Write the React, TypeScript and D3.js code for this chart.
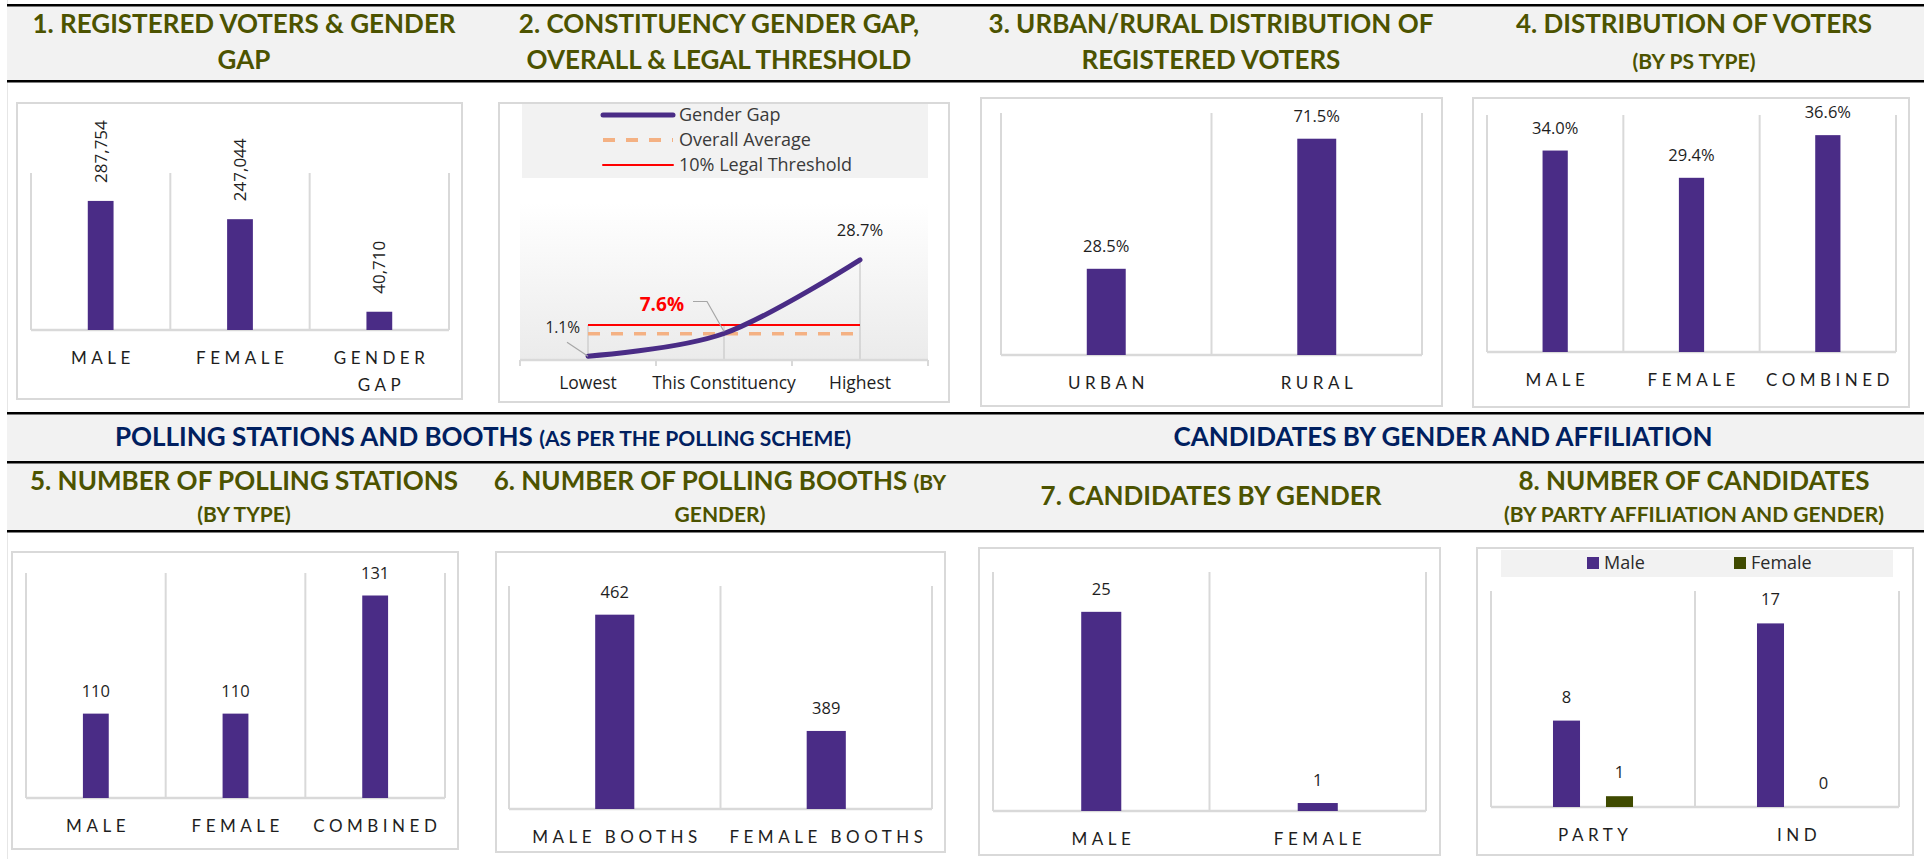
import React from "react";
import * as d3 from "d3";

const PURPLE = "#4a2c86";
const OLIVE_BAR = "#3f4a00";
const TITLE = "#4c5300";
const NAVY = "#002060";
const GRID = "#d9d9d9";
const HEADER_BG = "#f2f2f2";
const TEXT = "#1e1e1e";
const TITLE_FONT = "Lato, 'Open Sans', sans-serif";
const LABEL_FONT = "'Open Sans', sans-serif";

// 1. registered voters & gender gap
const voterCats = ["MALE", "FEMALE", "GENDER GAP"];
const voterVals = [287754, 247044, 40710];
// 2. constituency gender gap
const gapCats = ["Lowest", "This Constituency", "Highest"];
const gapVals = [1.1, 7.6, 28.7];
const overallAverage = 7.5;
const legalThreshold = 10;
// 3. urban / rural
const areaCats = ["URBAN", "RURAL"];
const areaVals = [28.5, 71.5];
// 4. voters by PS type
const psTypeCats = ["MALE", "FEMALE", "COMBINED"];
const psTypeVals = [34.0, 29.4, 36.6];
// 5. polling stations
const stationCats = ["MALE", "FEMALE", "COMBINED"];
const stationVals = [110, 110, 131];
// 6. polling booths
const boothCats = ["MALE BOOTHS", "FEMALE BOOTHS"];
const boothVals = [462, 389];
// 7. candidates by gender
const candCats = ["MALE", "FEMALE"];
const candVals = [25, 1];
// 8. candidates by affiliation and gender
const affCats = ["PARTY", "IND"];
const affSeries = ["Male", "Female"];
const affMale = [8, 17];
const affFemale = [1, 0];

const pct = (v: number) => v.toFixed(1) + "%";
const num = d3.format(",");

type Box = [number, number, number, number];
type Plot = { l: number; r: number; t: number; b: number };

function Frame({ box, plot, cats }: { box: Box; plot: Plot; cats: string[] }) {
  const x = d3.scaleBand<string>().domain(cats).range([plot.l, plot.r]).padding(0);
  const edges = [...cats.map(c => x(c) as number), plot.r];
  return (
    <g>
      <rect x={box[0]} y={box[1]} width={box[2] - box[0]} height={box[3] - box[1]} fill="#fff" stroke={GRID} strokeWidth={2} />
      {edges.map((e, i) => (
        <line key={i} x1={e} x2={e} y1={plot.t} y2={plot.b} stroke={GRID} strokeWidth={2} />
      ))}
      <line x1={plot.l} x2={plot.r} y1={plot.b} y2={plot.b} stroke={GRID} strokeWidth={2.5} />
    </g>
  );
}

function AxisLabels({ plot, cats, wrap }: { plot: Plot; cats: string[]; wrap?: boolean }) {
  const x = d3.scaleBand<string>().domain(cats).range([plot.l, plot.r]).padding(0);
  return (
    <g fontFamily={TITLE_FONT} fontSize={17} letterSpacing={4.5} fill={TEXT} textAnchor="middle">
      {cats.map(c => {
        const lines = wrap ? c.split(" ") : [c];
        return lines.map((ln, i) => (
          <text key={c + i} x={(x(c) as number) + x.bandwidth() / 2 + 2.2} y={plot.b + 34 + i * 27}>{ln}</text>
        ));
      })}
    </g>
  );
}

function BarPanel({ box, plot, cats, vals, domain, fmt, rotate, wrap }: {
  box: Box; plot: Plot; cats: string[]; vals: number[]; domain: [number, number];
  fmt: (v: number) => string; rotate?: boolean; wrap?: boolean;
}) {
  const x = d3.scaleBand<string>().domain(cats).range([plot.l, plot.r]).padding(0);
  const y = d3.scaleLinear().domain(domain).range([plot.b, plot.t]);
  const bw = x.bandwidth() * 0.185;
  return (
    <g>
      <Frame box={box} plot={plot} cats={cats} />
      {cats.map((c, i) => {
        const cx = (x(c) as number) + x.bandwidth() / 2;
        const top = y(vals[i]);
        return (
          <g key={c}>
            <rect x={cx - bw / 2} y={top} width={bw} height={plot.b - top} fill={PURPLE} />
            {rotate ? (
              <text transform={`translate(${cx + 6},${top - 18}) rotate(-90)`} fontFamily={LABEL_FONT} fontSize={17} fill={TEXT}>{fmt(vals[i])}</text>
            ) : (
              <text x={cx} y={top - 17} textAnchor="middle" fontFamily={LABEL_FONT} fontSize={16.5} fill={TEXT}>{fmt(vals[i])}</text>
            )}
          </g>
        );
      })}
      <AxisLabels plot={plot} cats={cats} wrap={wrap} />
    </g>
  );
}

function GapPanel() {
  const box: Box = [499, 103, 949, 402];
  const plot: Plot = { l: 520, r: 928, t: 203, b: 360 };
  const x = d3.scaleBand<string>().domain(gapCats).range([plot.l, plot.r]).padding(0);
  const y = d3.scaleLinear().domain([0, 45]).range([plot.b, plot.t]);
  const cx = (c: string) => (x(c) as number) + x.bandwidth() / 2;
  const pts = gapCats.map((c, i) => [cx(c), y(gapVals[i])] as [number, number]);
  // Excel-style smoothed line
  const curve = d3.line().curve(d3.curveCardinal.tension(0))(pts) as string;
  const edges = [...gapCats.map(c => x(c) as number), plot.r];
  const x0 = cx(gapCats[0]);
  const x2 = cx(gapCats[gapCats.length - 1]);
  const legend = [
    { label: "Gender Gap", color: PURPLE, w: 5, dash: "" },
    { label: "Overall Average", color: "#f4b183", w: 4, dash: "12,11" },
    { label: "10% Legal Threshold", color: "#ff0000", w: 2, dash: "" },
  ];
  const [p0, p1, p2] = pts;
  return (
    <g>
      <defs>
        <linearGradient id="gapBg" x1="0" y1="0" x2="0" y2="1">
          <stop offset="0" stopColor="#ffffff" />
          <stop offset="1" stopColor="#ebebeb" />
        </linearGradient>
      </defs>
      <rect x={box[0]} y={box[1]} width={box[2] - box[0]} height={box[3] - box[1]} fill="#fff" stroke={GRID} strokeWidth={2} />
      <rect x={522} y={104} width={406} height={74} fill={HEADER_BG} />
      {legend.map((l, i) => (
        <g key={l.label}>
          <line x1={603} x2={673} y1={115 + i * 25} y2={115 + i * 25} stroke={l.color} strokeWidth={l.w} strokeDasharray={l.dash} strokeLinecap={l.dash ? "butt" : "round"} />
          <text x={679} y={121 + i * 25} fontFamily={LABEL_FONT} fontSize={18} fill="#3a3a3a">{l.label}</text>
        </g>
      ))}
      <rect x={plot.l} y={plot.t} width={plot.r - plot.l} height={plot.b - plot.t} fill="url(#gapBg)" />
      {gapCats.map((c, i) => (
        <line key={c} x1={cx(c)} x2={cx(c)} y1={y(Math.max(gapVals[i], overallAverage, legalThreshold))} y2={plot.b} stroke="#c8c8c8" strokeWidth={1.2} />
      ))}
      <line x1={plot.l} x2={plot.r} y1={plot.b} y2={plot.b} stroke={GRID} strokeWidth={2.5} />
      {edges.map((e, i) => (
        <line key={i} x1={e} x2={e} y1={plot.b} y2={plot.b + 6} stroke={GRID} strokeWidth={2} />
      ))}
      <line x1={x0} x2={x2} y1={y(overallAverage)} y2={y(overallAverage)} stroke="#f4b183" strokeWidth={3.5} strokeDasharray="12,11" />
      <line x1={x0} x2={x2} y1={y(legalThreshold)} y2={y(legalThreshold)} stroke="#ff0000" strokeWidth={2} />
      <path d={curve} fill="none" stroke={PURPLE} strokeWidth={5} strokeLinecap="round" />
      <polyline points={`${p0[0] - 21},${p0[1] - 14} ${p0[0]},${p0[1]}`} fill="none" stroke="#a6a6a6" strokeWidth={1.2} />
      <text x={p0[0] - 8} y={p0[1] - 23} textAnchor="end" fontFamily={LABEL_FONT} fontSize={15.5} fill={TEXT}>{pct(gapVals[0])}</text>
      <polyline points={`${p1[0] - 31},${p1[1] - 32} ${p1[0] - 17},${p1[1] - 32} ${p1[0]},${p1[1] - 2}`} fill="none" stroke="#a6a6a6" strokeWidth={1.2} />
      <text x={p1[0] - 40} y={p1[1] - 22} textAnchor="end" fontFamily={LABEL_FONT} fontSize={19} fontWeight="bold" fill="#ff0000">{pct(gapVals[1])}</text>
      <text x={p2[0]} y={p2[1] - 24} textAnchor="middle" fontFamily={LABEL_FONT} fontSize={16.5} fill={TEXT}>{pct(gapVals[2])}</text>
      <g fontFamily={LABEL_FONT} fontSize={17.5} fill={TEXT} textAnchor="middle">
        {gapCats.map(c => (
          <text key={c} x={cx(c)} y={389}>{c}</text>
        ))}
      </g>
    </g>
  );
}

function AffiliationPanel() {
  const box: Box = [1477, 548, 1913, 855];
  const plot: Plot = { l: 1491, r: 1899, t: 591, b: 807 };
  const x = d3.scaleBand<string>().domain(affCats).range([plot.l, plot.r]).padding(0);
  const y = d3.scaleLinear().domain([0, 20]).range([plot.b, plot.t]);
  const colors = d3.scaleOrdinal<string, string>().domain(affSeries).range([PURPLE, OLIVE_BAR]);
  const series = [affMale, affFemale];
  return (
    <g>
      <Frame box={box} plot={plot} cats={affCats} />
      <rect x={1501} y={550} width={392} height={27} fill={HEADER_BG} />
      {affSeries.map((s, i) => (
        <g key={s}>
          <rect x={1587 + i * 147} y={557} width={12} height={12} fill={colors(s)} />
          <text x={1604 + i * 147} y={569} fontFamily={LABEL_FONT} fontSize={18} fill="#2a2a2a">{s}</text>
        </g>
      ))}
      {affCats.map((c, ci) => {
        const c0 = (x(c) as number) + x.bandwidth() / 2;
        const inner = d3.scaleBand<string>().domain(affSeries).range([c0 - 53, c0 + 53]).paddingInner(0.49).paddingOuter(0.245);
        return affSeries.map((s, si) => {
          const v = series[si][ci];
          const bx = inner(s) as number;
          const top = y(v);
          return (
            <g key={c + s}>
              {v > 0 && <rect x={bx} y={top} width={inner.bandwidth()} height={plot.b - top} fill={colors(s)} />}
              <text x={bx + inner.bandwidth() / 2} y={top - 18} textAnchor="middle" fontFamily={LABEL_FONT} fontSize={16.5} fill={TEXT}>{v}</text>
            </g>
          );
        });
      })}
      <AxisLabels plot={plot} cats={affCats} />
    </g>
  );
}

type Line = { big: string; small?: string };
function Header({ cx, lines }: { cx: number; lines: { y: number; parts: Line }[] }) {
  return (
    <g fontFamily={TITLE_FONT} fontWeight="bold" fill={TITLE} textAnchor="middle">
      {lines.map((l, i) => (
        <text key={i} x={cx} y={l.y}>
          {l.parts.big && <tspan fontSize={26}>{l.parts.big}</tspan>}
          {l.parts.small && <tspan fontSize={21}>{l.parts.small}</tspan>}
        </text>
      ))}
    </g>
  );
}

export default function App() {
  const W = 1924;
  const H = 859;
  return (
    <div style={{ position: "absolute", left: 0, top: 0, width: W, height: H, background: "#fff" }}>
      <svg width={W} height={H} style={{ display: "block" }}>
        <rect x={0} y={0} width={W} height={H} fill="#fff" />
        <line x1={7.5} x2={7.5} y1={0} y2={H} stroke="#e6e6e6" strokeWidth={1} />
        {/* row 1 header */}
        <rect x={7} y={5} width={W - 7} height={76} fill={HEADER_BG} />
        <rect x={7} y={4} width={W - 7} height={2.5} fill="#000" />
        <rect x={7} y={80} width={W - 7} height={2.5} fill="#000" />
        {/* row 2 headers */}
        <rect x={7} y={413} width={W - 7} height={118} fill={HEADER_BG} />
        <rect x={7} y={412} width={W - 7} height={2.5} fill="#000" />
        <rect x={7} y={461} width={W - 7} height={2.5} fill="#000" />
        <rect x={7} y={530} width={W - 7} height={2.5} fill="#000" />

        <Header cx={244} lines={[{ y: 33, parts: { big: "1. REGISTERED VOTERS & GENDER" } }, { y: 69, parts: { big: "GAP" } }]} />
        <Header cx={719} lines={[{ y: 33, parts: { big: "2. CONSTITUENCY GENDER GAP," } }, { y: 69, parts: { big: "OVERALL & LEGAL THRESHOLD" } }]} />
        <Header cx={1211} lines={[{ y: 33, parts: { big: "3. URBAN/RURAL DISTRIBUTION OF" } }, { y: 69, parts: { big: "REGISTERED VOTERS" } }]} />
        <Header cx={1694} lines={[{ y: 33, parts: { big: "4. DISTRIBUTION OF VOTERS" } }, { y: 69, parts: { big: "", small: "(BY PS TYPE)" } }]} />

        <g fontFamily={TITLE_FONT} fontWeight="bold" fill={NAVY} textAnchor="middle">
          <text x={483} y={446}>
            <tspan fontSize={26}>POLLING STATIONS AND BOOTHS </tspan>
            <tspan fontSize={21}>(AS PER THE POLLING SCHEME)</tspan>
          </text>
          <text x={1443} y={446} fontSize={26}>CANDIDATES BY GENDER AND AFFILIATION</text>
        </g>

        <Header cx={244} lines={[{ y: 490, parts: { big: "5. NUMBER OF POLLING STATIONS" } }, { y: 522, parts: { big: "", small: "(BY TYPE)" } }]} />
        <Header cx={720} lines={[{ y: 490, parts: { big: "6. NUMBER OF POLLING BOOTHS ", small: "(BY" } }, { y: 522, parts: { big: "", small: "GENDER)" } }]} />
        <Header cx={1211} lines={[{ y: 505, parts: { big: "7. CANDIDATES BY GENDER" } }]} />
        <Header cx={1694} lines={[{ y: 490, parts: { big: "8. NUMBER OF CANDIDATES" } }, { y: 522, parts: { big: "", small: "(BY PARTY AFFILIATION AND GENDER)" } }]} />

        <BarPanel box={[17, 103, 462, 399]} plot={{ l: 31, r: 449, t: 173, b: 330 }} cats={voterCats} vals={voterVals} domain={[0, 350000]} fmt={num} rotate wrap />
        <GapPanel />
        <BarPanel box={[981, 98, 1442, 406]} plot={{ l: 1001, r: 1422, t: 113, b: 355 }} cats={areaCats} vals={areaVals} domain={[0, 80]} fmt={pct} />
        <BarPanel box={[1473, 98, 1909, 407]} plot={{ l: 1487, r: 1896, t: 115, b: 352 }} cats={psTypeCats} vals={psTypeVals} domain={[0, 40]} fmt={pct} />

        <BarPanel box={[12, 552, 458, 849]} plot={{ l: 26, r: 445, t: 573, b: 798 }} cats={stationCats} vals={stationVals} domain={[95, 135]} fmt={String} />
        <BarPanel box={[496, 552, 945, 852]} plot={{ l: 509, r: 932, t: 586, b: 809 }} cats={boothCats} vals={boothVals} domain={[340, 480]} fmt={String} />
        <BarPanel box={[979, 548, 1440, 855]} plot={{ l: 993, r: 1426, t: 572, b: 811 }} cats={candCats} vals={candVals} domain={[0, 30]} fmt={String} />
        <AffiliationPanel />
      </svg>
    </div>
  );
}
